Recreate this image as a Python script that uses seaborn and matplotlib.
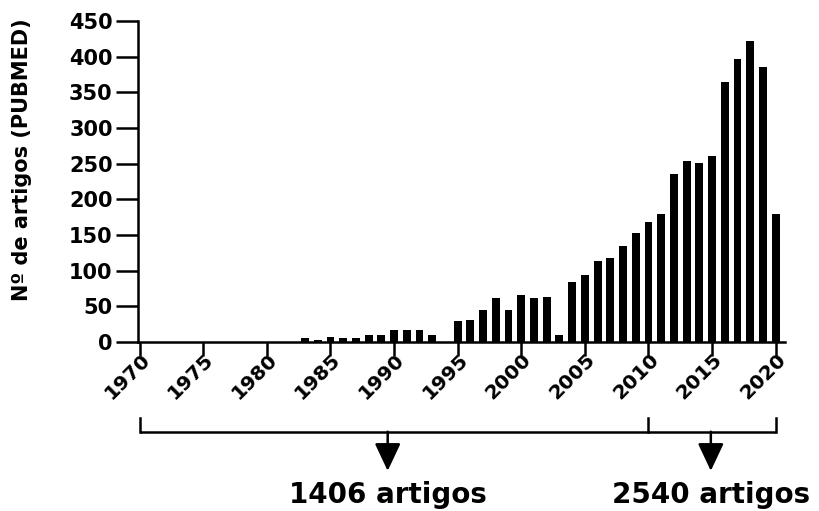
import numpy as np
import pandas as pd
import matplotlib
matplotlib.use("Agg")
import matplotlib.pyplot as plt
import matplotlib.transforms as mtransforms
import seaborn as sns

years = list(range(1970, 2021))
counts = [0, 0, 0, 0, 0, 0, 0, 0, 0, 0,
          0, 0, 0, 6, 3, 7, 6, 5, 10, 10,
          17, 16, 16, 9, 0, 29, 30, 45, 62, 45,
          66, 61, 63, 9, 84, 94, 114, 118, 135, 153,
          168, 179, 236, 254, 251, 260, 365, 397, 422, 385,
          179]
xticks = list(range(1970, 2021, 5))
yticks = list(range(0, 451, 50))
ylabel = "Nº de artigos (PUBMED)"
bracket_edges = [1970, 2010, 2020]
arrow_x = [1989.5, 2014.9]
arrow_labels = ["1406 artigos", "2540 artigos"]

sns.set_style("ticks")
plt.rcParams["font.family"] = ["DejaVu Sans"]
plt.rcParams["font.weight"] = "bold"

df = pd.DataFrame({"year": years, "n": counts})

fig = plt.figure(figsize=(8.19, 5.11), dpi=100)
ax = fig.add_axes([0.168, 0.331, 0.790, 0.628])

sns.barplot(data=df, x="year", y="n", native_scale=True, color="black",
            width=0.62, linewidth=0, saturation=1, ax=ax, errorbar=None)

ax.set_xlim(1969.84, 2020.7)
ax.set_ylim(0, 450)

for s in ["top", "right"]:
    ax.spines[s].set_visible(False)
for s in ["left", "bottom"]:
    ax.spines[s].set_linewidth(1.8)
    ax.spines[s].set_color("black")
ax.tick_params(axis="y", length=16, width=1.8, pad=2, colors="black")
ax.tick_params(axis="x", length=10, width=1.8, pad=3, colors="black")

ax.set_xticks(xticks)
ax.set_xticklabels([str(t) for t in xticks], rotation=45, ha="right",
                   rotation_mode="anchor", fontsize=14.5, fontweight="bold")
ax.set_yticks(yticks)
ax.set_yticklabels([str(t) for t in yticks], fontsize=15, fontweight="bold")
shift = mtransforms.ScaledTranslation(0.5 / 100, 10 / 100, fig.dpi_scale_trans)
for lab in ax.xaxis.get_majorticklabels():
    lab.set_transform(lab.get_transform() + shift)

ax.set_xlabel("")
ax.set_ylabel(ylabel, fontsize=15, fontweight="bold", color="black")
ax.yaxis.set_label_coords(-0.163, 0.567)

trans = mtransforms.blended_transform_factory(ax.transData, ax.transAxes)
y_line = -0.280
y_top = -0.237
y_tip = -0.402
y_text = -0.477
lw = 1.8
ax.plot([bracket_edges[0], bracket_edges[-1]], [y_line, y_line], color="black",
        lw=lw, transform=trans, clip_on=False, solid_capstyle="butt")
for e in bracket_edges:
    ax.plot([e, e], [y_top, y_line], color="black", lw=lw, transform=trans,
            clip_on=False, solid_capstyle="projecting")
for mid, label in zip(arrow_x, arrow_labels):
    ax.annotate("", xy=(mid, y_tip), xytext=(mid, y_line), xycoords=trans,
                textcoords=trans, annotation_clip=False,
                arrowprops=dict(arrowstyle="-|>,head_length=0.85,head_width=0.40",
                                mutation_scale=20, color="black", lw=lw,
                                shrinkA=0, shrinkB=0))
    ax.text(mid, y_text, label, transform=trans, ha="center", va="center",
            fontsize=20, fontweight="bold", color="black", clip_on=False)

fig.savefig("out.png", dpi=100)
